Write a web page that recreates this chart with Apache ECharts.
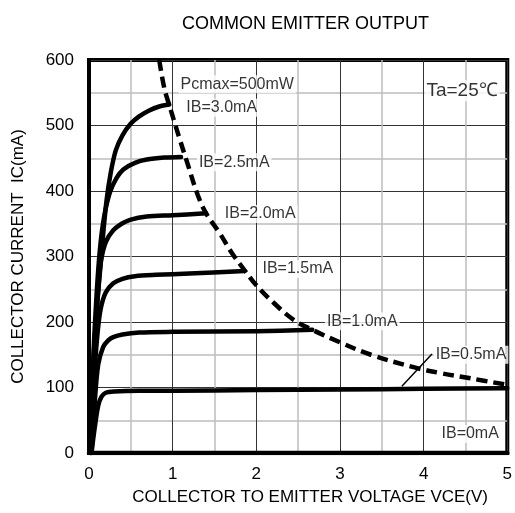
<!DOCTYPE html>
<html>
<head>
<meta charset="utf-8">
<script src="https://cdn.jsdelivr.net/npm/echarts@6/dist/echarts.min.js"></script>
<style>html,body{margin:0;padding:0;background:#fff}#c{width:515px;height:513px}</style>
</head>
<body>
<div id="c"></div>
<script>
// ---- data (VCE in V, IC in mA) ----
const vce_ib05 = [0.03, 0.07, 0.11, 0.15, 0.2, 0.3, 0.6, 1, 2, 3, 4, 5];
const ic_ib05  = [0, 40, 72, 86, 92, 94, 95, 95, 96, 97, 98, 99];
const vce_ib10 = [0.03, 0.07, 0.11, 0.17, 0.23, 0.29, 0.4, 0.6, 1.0, 2.0, 2.67];
const ic_ib10  = [0, 80, 135, 162, 172, 177, 181, 184, 185, 186, 188];
const vce_ib15 = [0.02, 0.06, 0.1, 0.14, 0.2, 0.29, 0.4, 0.55, 0.8, 1.2, 1.86];
const ic_ib15  = [0, 110, 180, 220, 245, 259, 266, 270, 272, 274, 278];
const vce_ib20 = [0.02, 0.06, 0.1, 0.14, 0.2, 0.29, 0.39, 0.49, 0.69, 1.0, 1.4];
const ic_ib20  = [0, 140, 230, 290, 322, 340, 350, 356, 361, 363, 366];
const vce_ib25 = [0.02, 0.05, 0.09, 0.13, 0.18, 0.25, 0.33, 0.41, 0.55, 0.69, 0.9, 1.1];
const ic_ib25  = [0, 140, 240, 310, 360, 398, 420, 433, 443, 448, 451, 452];
const vce_ib30 = [0.02, 0.05, 0.09, 0.13, 0.17, 0.21, 0.26, 0.32, 0.4, 0.5, 0.6, 0.72, 0.84, 0.96];
const ic_ib30  = [0, 130, 215, 275, 335, 386, 428, 462, 485, 503, 514, 523, 529, 532];
const vce_ib00 = [0, 5];
const ic_ib00  = [0, 0];
const vce_pc = [0.84, 0.9, 0.96, 1.08, 1.17, 1.3, 1.4, 1.56, 1.71, 1.86, 2.0, 2.21, 2.45, 2.67, 3.0, 3.37, 3.88, 4.2, 4.56, 5.0];
const ic_pc  = [600, 557, 531, 481, 445, 394, 366, 336, 305, 279, 256, 229, 203, 188, 169, 150, 131, 122, 114, 104];
const leader_vce = [3.74, 4.10];
const leader_ic  = [102, 151];
const xTicks = [0, 1, 2, 3, 4, 5];
const yTicks = [0, 100, 200, 300, 400, 500, 600];
const annText = ['Pcmax=500mW', 'IB=3.0mA', 'IB=2.5mA', 'IB=2.0mA', 'IB=1.5mA', 'IB=1.0mA', 'IB=0.5mA', 'IB=0mA', 'Ta=25℃'];
const annVce  = [1.07, 1.14, 1.29, 1.60, 2.05, 2.82, 4.12, 4.19, 4.01];
const annIc   = [563, 527, 444, 365, 281, 201, 150, 29, 553];

const zip = (a, b) => a.map((v, i) => [v, b[i]]);
const FONT = '"Liberation Sans", Arial, sans-serif';

const curve = (name, xs, ys) => ({
  name, type: 'line', data: zip(xs, ys), showSymbol: false, smooth: 0.3,
  lineStyle: { color: '#000', width: 4.5, cap: 'round', join: 'round' }, z: 3, silent: true
});

const chart = echarts.init(document.getElementById('c'), null, { renderer: 'canvas' });
chart.setOption({
  backgroundColor: '#fff',
  animation: false,
  title: {
    text: 'COMMON EMITTER OUTPUT', left: 177, top: 10,
    textStyle: { fontFamily: FONT, fontSize: 18, fontWeight: 'normal', color: '#000' }
  },
  grid: { left: 89, right: 5, top: 60, bottom: 60, show: true, borderColor: '#000', borderWidth: 4, backgroundColor: 'transparent' },
  xAxis: {
    type: 'value', min: xTicks[0], max: xTicks[xTicks.length - 1], interval: 1,
    name: 'COLLECTOR TO EMITTER VOLTAGE VCE(V)', nameLocation: 'middle', nameGap: 36,
    nameTextStyle: { fontFamily: FONT, fontSize: 17, color: '#000', padding: [0, 0, 0, 24] },
    axisLine: { show: true, lineStyle: { color: '#000', width: 4 } },
    axisTick: { show: false },
    axisLabel: { fontFamily: FONT, fontSize: 17, color: '#000', margin: 13 },
    splitLine: { show: true, lineStyle: { color: '#333', width: 1 } },
    minorTick: { show: false, splitNumber: 2 },
    minorSplitLine: { show: true, lineStyle: { color: '#bdbdbd', width: 1.5 } }
  },
  yAxis: {
    type: 'value', min: yTicks[0], max: yTicks[yTicks.length - 1], interval: 100,
    name: 'COLLECTOR CURRENT  IC(mA)', nameLocation: 'middle', nameGap: 62,
    nameTextStyle: { fontFamily: FONT, fontSize: 17, color: '#000' },
    axisLine: { show: true, lineStyle: { color: '#000', width: 4 } },
    axisTick: { show: false },
    axisLabel: { fontFamily: FONT, fontSize: 17, color: '#000', margin: 15 },
    splitLine: { show: true, lineStyle: { color: '#333', width: 1 } },
    minorTick: { show: false, splitNumber: 2 },
    minorSplitLine: { show: true, lineStyle: { color: '#bdbdbd', width: 1.5 } }
  },
  series: [
    curve('IB=0mA', vce_ib00, ic_ib00),
    curve('IB=0.5mA', vce_ib05, ic_ib05),
    curve('IB=1.0mA', vce_ib10, ic_ib10),
    curve('IB=1.5mA', vce_ib15, ic_ib15),
    curve('IB=2.0mA', vce_ib20, ic_ib20),
    curve('IB=2.5mA', vce_ib25, ic_ib25),
    curve('IB=3.0mA', vce_ib30, ic_ib30),
    {
      name: 'Pcmax', type: 'line', data: zip(vce_pc, ic_pc), showSymbol: false, smooth: 0.4, silent: true,
      lineStyle: { color: '#000', width: 4.5, type: [11, 6] }, z: 4
    },
    {
      name: 'leader', type: 'line', data: zip(leader_vce, leader_ic), showSymbol: false, silent: true,
      lineStyle: { color: '#000', width: 1.5 }, z: 5
    },
    {
      name: 'labels', type: 'scatter', symbolSize: 0, silent: true, z: 6,
      data: annText.map((t, i) => ({
        value: [annVce[i], annIc[i]], name: t,
        label: i === annText.length - 1 ? { fontSize: 19 } : undefined
      })),
      label: {
        show: true, position: 'right', distance: 0, formatter: p => p.name,
        fontFamily: FONT, fontSize: 16, color: '#000', backgroundColor: '#fff', padding: [1, 2]
      }
    }
  ]
});
</script>
</body>
</html>
